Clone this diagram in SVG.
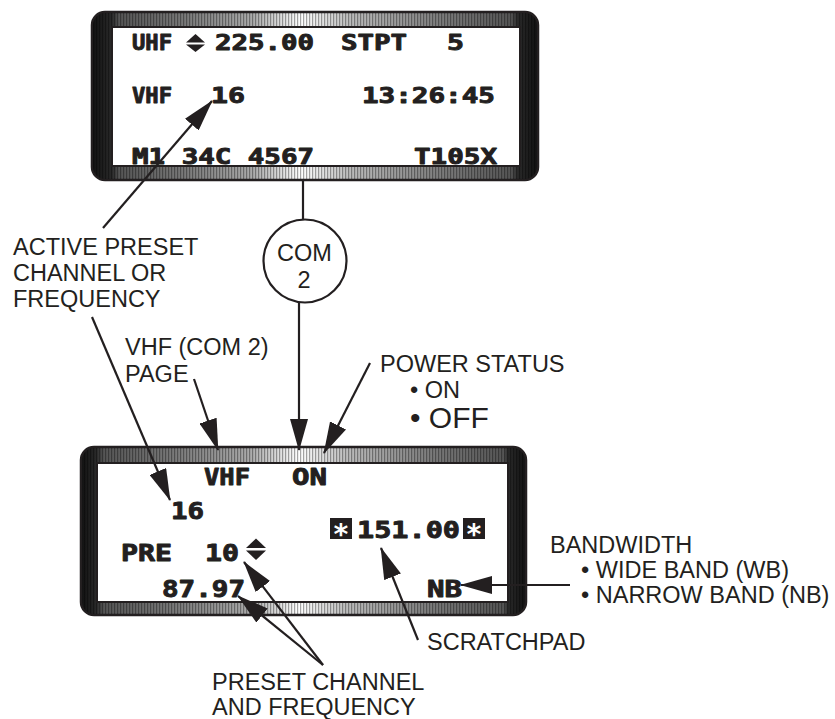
<svg xmlns="http://www.w3.org/2000/svg" width="835" height="719" viewBox="0 0 835 719">
<defs>
<linearGradient id="bzTop" x1="0" y1="0" x2="1" y2="0">
<stop offset="0" stop-color="#111"/>
<stop offset="0.045" stop-color="#2a2a2a"/>
<stop offset="0.06" stop-color="#555"/>
<stop offset="0.2" stop-color="#777"/>
<stop offset="0.36" stop-color="#aaa"/>
<stop offset="0.47" stop-color="#fff"/>
<stop offset="0.58" stop-color="#bbb"/>
<stop offset="0.8" stop-color="#777"/>
<stop offset="0.94" stop-color="#555"/>
<stop offset="0.955" stop-color="#2a2a2a"/>
<stop offset="1" stop-color="#111"/>
</linearGradient>
<linearGradient id="bzBot" x1="0" y1="0" x2="1" y2="0">
<stop offset="0" stop-color="#111"/>
<stop offset="0.035" stop-color="#2a2a2a"/>
<stop offset="0.05" stop-color="#555"/>
<stop offset="0.2" stop-color="#777"/>
<stop offset="0.38" stop-color="#aaa"/>
<stop offset="0.49" stop-color="#fff"/>
<stop offset="0.6" stop-color="#bbb"/>
<stop offset="0.8" stop-color="#777"/>
<stop offset="0.95" stop-color="#555"/>
<stop offset="0.96" stop-color="#2a2a2a"/>
<stop offset="1" stop-color="#111"/>
</linearGradient>
<pattern id="stripes" width="3" height="10" patternUnits="userSpaceOnUse">
<rect x="0" y="0" width="1.2" height="10" fill="#000" fill-opacity="0.35"/>
</pattern>
<marker id="ah" markerUnits="userSpaceOnUse" markerWidth="32" markerHeight="18" viewBox="0 0 32 18" refX="31" refY="9" orient="auto">
<path d="M0,0 L32,9 L0,18 z" fill="#231f20"/>
</marker>
</defs>
<style>
.lbl{font-family:"Liberation Sans",Arial,Helvetica,sans-serif;font-size:23.5px;fill:#231f20}
.big{font-size:30px}
.lcd{font-family:"DejaVu Sans Mono","Liberation Mono",monospace;font-weight:bold;fill:#231f20;stroke:#231f20;stroke-width:0.9;stroke-linejoin:round}
.t{font-size:20.5px}
.b{font-size:22.5px}
.ast{font-family:"DejaVu Sans Mono",monospace;font-weight:bold;font-size:28px;fill:#fff}
.conn line{stroke:#231f20;stroke-width:2.2;fill:none}
.conn .arr{marker-end:url(#ah)}
.frame{stroke:#231f20;stroke-width:2.5}
.screen{fill:#fff;stroke:#231f20;stroke-width:2}
.sym{fill:#231f20}
</style>

<g id="top-display">
<rect class="frame" x="92" y="12" width="446" height="168" rx="13" fill="url(#bzTop)"/>
<rect x="93" y="13" width="444" height="166" rx="12" fill="url(#stripes)"/>
<rect class="screen" x="112" y="27" width="408" height="139"/>
<text class="lcd t" x="132" y="49.5" textLength="40" lengthAdjust="spacingAndGlyphs">UHF</text>
<polygon class="sym" points="186,42.5 195.5,34 205,42.5"/>
<polygon class="sym" points="186,44.5 205,44.5 195.5,52"/>
<text class="lcd t" x="215" y="49.5" textLength="99" lengthAdjust="spacingAndGlyphs">225.00</text>
<text class="lcd t" x="341" y="49.5" textLength="66" lengthAdjust="spacingAndGlyphs">STPT</text>
<text class="lcd t" x="447" y="49.5" textLength="17" lengthAdjust="spacingAndGlyphs">5</text>
<text class="lcd t" x="132" y="103" textLength="40" lengthAdjust="spacingAndGlyphs">VHF</text>
<text class="lcd t" x="211" y="103" textLength="34" lengthAdjust="spacingAndGlyphs">16</text>
<text class="lcd t" x="362" y="103" textLength="133" lengthAdjust="spacingAndGlyphs">13:26:45</text>
<text class="lcd t" x="132" y="163.5" textLength="182" lengthAdjust="spacingAndGlyphs">M1 34C 4567</text>
<text class="lcd t" x="414" y="163.5" textLength="83" lengthAdjust="spacingAndGlyphs">T105X</text>
</g>

<g id="bottom-display">
<rect class="frame" x="81" y="447" width="445" height="168" rx="13" fill="url(#bzBot)"/>
<rect x="82" y="448" width="443" height="166" rx="12" fill="url(#stripes)"/>
<rect class="screen" x="97" y="463" width="411" height="139"/>
<text class="lcd b" x="204" y="485" textLength="46" lengthAdjust="spacingAndGlyphs">VHF</text>
<text class="lcd b" x="292" y="485" textLength="35" lengthAdjust="spacingAndGlyphs">ON</text>
<text class="lcd b" x="171" y="519" textLength="33" lengthAdjust="spacingAndGlyphs">16</text>
<rect x="330" y="518" width="22" height="21" fill="#231f20"/>
<text class="ast" x="341" y="544.3" text-anchor="middle">*</text>
<text class="lcd b" x="357" y="537.5" textLength="103" lengthAdjust="spacingAndGlyphs">151.00</text>
<rect x="463" y="518" width="22" height="21" fill="#231f20"/>
<text class="ast" x="474" y="544.3" text-anchor="middle">*</text>
<text class="lcd b" x="121" y="561" textLength="51" lengthAdjust="spacingAndGlyphs">PRE</text>
<text class="lcd b" x="205" y="561" textLength="34" lengthAdjust="spacingAndGlyphs">10</text>
<polygon class="sym" points="246,548 256,538.5 266,548"/>
<polygon class="sym" points="246,550.5 266,550.5 256,560"/>
<text class="lcd b" x="162" y="597" textLength="83" lengthAdjust="spacingAndGlyphs">87.97</text>
<text class="lcd b" x="427" y="597" textLength="35" lengthAdjust="spacingAndGlyphs">NB</text>
</g>

<g id="com2">
<circle cx="305" cy="261" r="41.5" fill="#fff" stroke="#231f20" stroke-width="2.2"/>
<text class="lbl" x="304.5" y="261" text-anchor="middle">COM</text>
<text class="lbl" x="304" y="288" text-anchor="middle">2</text>
</g>

<g id="label-active">
<text class="lbl" x="13" y="255">ACTIVE PRESET</text>
<text class="lbl" x="13" y="281">CHANNEL OR</text>
<text class="lbl" x="13" y="307">FREQUENCY</text>
</g>

<g id="label-page">
<text class="lbl" x="125" y="355">VHF (COM 2)</text>
<text class="lbl" x="125" y="382">PAGE</text>
</g>

<g id="label-power">
<text class="lbl" x="380" y="372">POWER STATUS</text>
<text class="lbl" x="410" y="398">• ON</text>
<text class="lbl big" x="410" y="428">• OFF</text>
</g>

<g id="label-bandwidth">
<text class="lbl" x="550" y="553">BANDWIDTH</text>
<text class="lbl" x="581" y="578">• WIDE BAND (WB)</text>
<text class="lbl" x="581" y="603">• NARROW BAND (NB)</text>
</g>

<g id="label-scratchpad">
<text class="lbl" x="427" y="650">SCRATCHPAD</text>
</g>

<g id="label-preset">
<text class="lbl" x="212" y="690">PRESET CHANNEL</text>
<text class="lbl" x="212" y="715">AND FREQUENCY</text>
</g>

<g id="connectors" class="conn">
<line x1="303" y1="180" x2="303" y2="219.5"/>
<line class="arr" x1="103" y1="228" x2="212" y2="101"/>
<line class="arr" x1="92" y1="317" x2="170" y2="500"/>
<line class="arr" x1="194" y1="379" x2="218" y2="450"/>
<line class="arr" x1="299" y1="303" x2="299" y2="450"/>
<line class="arr" x1="370" y1="363" x2="324" y2="453"/>
<line class="arr" x1="323" y1="665" x2="244" y2="562"/>
<line class="arr" x1="323" y1="665" x2="238" y2="596"/>
<line class="arr" x1="418" y1="640" x2="381" y2="548"/>
<line class="arr" x1="570" y1="585" x2="461" y2="585"/>
</g>
</svg>
